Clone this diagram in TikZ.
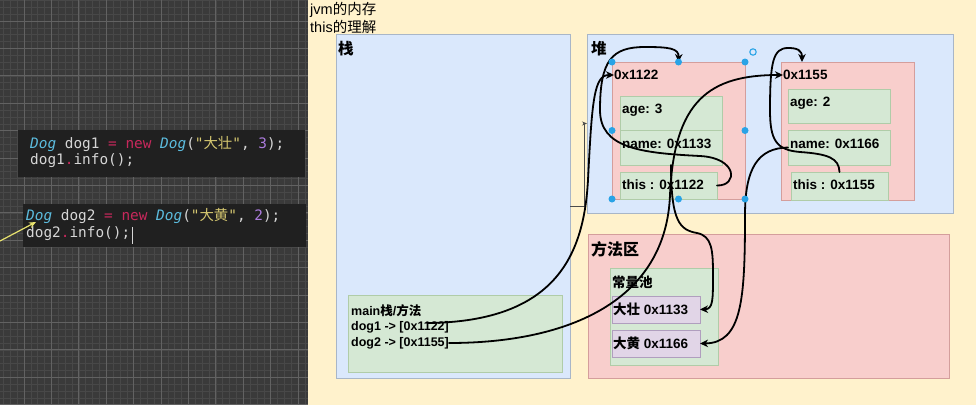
\documentclass[tikz,border=0pt]{standalone}
\usepackage{fontspec}
\setmainfont{Liberation Sans}
\newfontfamily\cjk{Noto Sans CJK SC}
\newfontfamily\codefont{DejaVu Sans Mono}
\usetikzlibrary{arrows.meta,positioning,calc}
\definecolor{gridbg}{RGB}{58,58,58}
\definecolor{gridminor}{RGB}{72,72,72}
\definecolor{gridmajor}{RGB}{98,98,98}
\definecolor{codebg}{RGB}{32,32,32}
\definecolor{codegray}{RGB}{214,214,214}
\definecolor{codetype}{RGB}{92,188,222}
\definecolor{codekey}{RGB}{200,40,92}
\definecolor{codestr}{RGB}{214,200,112}
\definecolor{codenum}{RGB}{172,124,222}
\definecolor{cursoryellow}{RGB}{232,226,110}
\definecolor{panelyellow}{RGB}{255,242,204}
\definecolor{areablue}{RGB}{218,232,252}
\definecolor{lineblue}{RGB}{168,182,200}
\definecolor{areapink}{RGB}{248,206,204}
\definecolor{linepink}{RGB}{212,158,156}
\definecolor{areagreen}{RGB}{213,232,212}
\definecolor{linegreen}{RGB}{176,204,168}
\definecolor{areapurple}{RGB}{225,213,231}
\definecolor{linepurple}{RGB}{176,158,190}
\definecolor{selblue}{RGB}{41,163,230}

\begin{document}
\begin{tikzpicture}[x=1pt, y=-1pt,
    box/.style 2 args={minimum width=#1pt, minimum height=#2pt, anchor=north west,
      inner sep=0pt, outer sep=0pt, line width=0.8pt},
    bluebox/.style={draw=lineblue, fill=areablue},
    pinkbox/.style={draw=linepink, fill=areapink},
    greenbox/.style={draw=linegreen, fill=areagreen},
    purplebox/.style={draw=linepurple, fill=areapurple},
    lbl/.style={anchor=west, inner sep=0pt, font=\bfseries\fontsize{13.5}{15}\selectfont},
    head/.style={anchor=west, inner sep=0pt, font=\bfseries\fontsize{15.5}{17}\selectfont},
    title/.style={anchor=west, inner sep=0pt, font=\fontsize{14.5}{16}\selectfont},
    code/.style={anchor=west, inner sep=0pt, text=codegray, font=\codefont\fontsize{14.4}{16}\selectfont},
    link/.style={line width=1.8pt, line cap=round, line join=round,
      -{Stealth[length=8pt, width=7.5pt, inset=2.5pt]}},
    stub/.style={line width=0.7pt, draw=black!70, -{Stealth[length=5pt, width=4pt]}}]
  \useasboundingbox (0,0) rectangle (976,405);

  % dark editor background with grid
  \fill[gridbg] (0,0) rectangle (308,405);
  \begin{scope}
    \clip (0,0) rectangle (308,405);
    \foreach \k in {-4,...,42}
      \draw[gridminor, line width=0.5pt] ({24+6.85*\k},0) -- ({24+6.85*\k},405);
    \foreach \k in {-4,...,56}
      \draw[gridminor, line width=0.5pt] (0,{21+6.85*\k}) -- (308,{21+6.85*\k});
    \foreach \k in {0,...,10}
      \draw[gridmajor, line width=0.7pt] ({24+27.4*\k},0) -- ({24+27.4*\k},405);
    \foreach \k in {0,...,14}
      \draw[gridmajor, line width=0.7pt] (0,{21+27.4*\k}) -- (308,{21+27.4*\k});
  \end{scope}

  % code snippets
  \node[box={287}{47}, fill=codebg, draw=none] (codeone) at (18,130) {};
  \node[box={283}{43}, fill=codebg, draw=none] (codetwo) at (23,204) {};
  \node[code] (lineone) at (30,144) {\textcolor{codetype}{\itshape Dog} dog1 \textcolor{codekey}{=} \textcolor{codekey}{new} \textcolor{codetype}{\itshape Dog}(\textcolor{codestr}{"{\cjk 大壮}"}, \textcolor{codenum}{3});};
  \node[code] (linetwo) at (30,161) {dog1\textcolor{codekey}{.}info();};
  \node[code] (linethree) at (26,216) {\textcolor{codetype}{\itshape Dog} dog2 \textcolor{codekey}{=} \textcolor{codekey}{new} \textcolor{codetype}{\itshape Dog}(\textcolor{codestr}{"{\cjk 大黄}"}, \textcolor{codenum}{2});};
  \node[code] (linefour) at (26,234) {dog2\textcolor{codekey}{.}info();};
  \draw[codegray, line width=0.6pt] ([xshift=2pt]linefour.north east) -- ([xshift=2pt,yshift=-3pt]linefour.south east);
  \coordinate (cursortail) at (0,241);
  \draw[cursoryellow, line width=1.2pt, -{Stealth[length=7pt, width=6pt]}] (cursortail) -- ([shift={(10,6)}]linethree.west);

  % memory panel
  \fill[panelyellow] (308,0) rectangle (976,405);
  \node[title] (jvmtitle) at (310,10) {jvm{\cjk 的内存}};
  \node[title] (thistitle) at (310,27) {this{\cjk 的理解}};

  % stack
  \node[bluebox, box={234}{344}] (stack) at (336,34) {};
  \node[head] (stacklbl) at (338,49) {\cjk 栈};
  \node[greenbox, box={214}{77}] (mainbox) at (348,295) {};
  \node[lbl, font=\bfseries\fontsize{12.5}{14}\selectfont] (maintitle) at (351,311) {main{\cjk 栈}/{\cjk 方法}};
  \node[lbl, font=\bfseries\fontsize{12.5}{14}\selectfont] (dogone) at (351,327) {dog1 -> [0x1122]};
  \node[lbl, font=\bfseries\fontsize{12.5}{14}\selectfont] (dogtwo) at (351,343) {dog2 -> [0x1155]};

  % heap
  \node[bluebox, box={366}{179}] (heap) at (587,34) {};
  \node[head] (heaplbl) at (591,49) {\cjk 堆};
  \node[pinkbox, box={133}{137}] (objone) at (612,62) {};
  \node[lbl] (addrone) at (614,75) {0x1122};
  \node[greenbox, box={102}{34}] (agea) at (620,96) {};
  \node[greenbox, box={102}{35}] (namea) at (620,130) {};
  \node[greenbox, box={97}{27}] (thisa) at (620,172) {};
  \node[lbl] at (622,110) {age: 3};
  \node[lbl] at (622,144) {name: 0x1133};
  \node[lbl] at (622,185) {this : 0x1122};

  \node[pinkbox, box={133}{138}] (objtwo) at (781,62) {};
  \node[lbl] (addrtwo) at (783,75) {0x1155};
  \node[greenbox, box={102}{34}] (ageb) at (788,89) {};
  \node[greenbox, box={102}{35}] (nameb) at (788,130) {};
  \node[greenbox, box={97}{28}] (thisb) at (791,172) {};
  \node[lbl] at (790,103) {age: 2};
  \node[lbl] at (790,144) {name: 0x1166};
  \node[lbl] at (793,185) {this : 0x1155};

  % method area
  \node[pinkbox, box={361}{144}] (method) at (588,234) {};
  \node[head, font=\bfseries\fontsize{16}{18}\selectfont] (methodlbl) at (591,249) {\cjk 方法区};
  \node[greenbox, box={108}{97}] (pool) at (610,268) {};
  \node[lbl] (poollbl) at (612,282) {\cjk 常量池};
  \node[purplebox, box={88}{27}] (strone) at (612,296) {};
  \node[purplebox, box={88}{27}] (strtwo) at (612,330) {};
  \node[lbl] at (613,309) {{\cjk 大壮} 0x1133};
  \node[lbl] at (613,343) {{\cjk 大黄} 0x1166};

  % stack to heap stub
  \draw[stub] (stack.east) -- ++(14,0) |- (heap.west);

  % references
  \draw[link] ([xshift=-22pt,yshift=4pt]dogone.east) .. controls (560,322) and (584,250) .. (588,180)
    .. controls (592,100) and (594,75) .. (addrone.west);
  \draw[link] (dogtwo.east) .. controls (570,343) and (666,300) .. (670,195)
    .. controls (674,100) and (710,75) .. (addrtwo.west);
  \draw[link] (namea.south) .. controls (671,222) and (680,230) .. (697,233)
    .. controls (712,236) and (713,250) .. (713,275)
    .. controls (713,300) and (713,309) .. (strone.east);
  \draw[link] (nameb.west) .. controls (758,148) and (745,168) .. (745,215)
    .. controls (745,300) and (742,343) .. (strtwo.east);
  \draw[link] (thisa.east) .. controls (738,186) and (738,158) .. (700,156)
    .. controls (640,153) and (600,148) .. (600,110)
    .. controls (600,60) and (612,47) .. (645,47)
    .. controls (668,47) and (679,48) .. (objone.north);
  \draw[link] (thisb.north) .. controls (839,158) and (828,154) .. (800,152)
    .. controls (776,150) and (770,140) .. (770,110)
    .. controls (770,62) and (773,48) .. (788,48)
    .. controls (797,48) and (802,50) .. ([xshift=21pt]objtwo.north west);

  % selection handles
  \foreach \p in {north west, north, north east, west, east, south west, south, south east}
    \fill[selblue] (objone.\p) circle (3.5pt);
  \draw[selblue, line width=1.1pt] ([shift={(8,-10)}]objone.north east) circle (3.2pt);
\end{tikzpicture}
\end{document}
